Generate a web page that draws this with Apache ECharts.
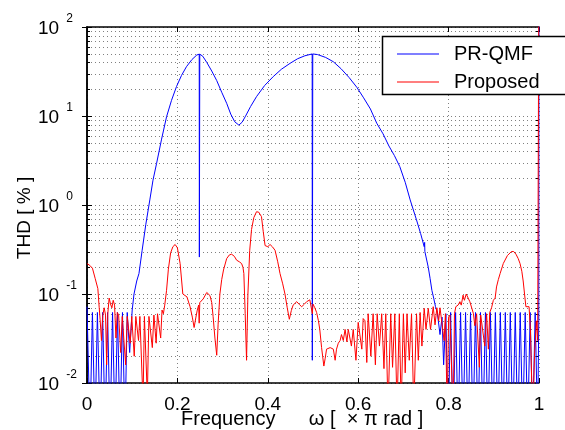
<!DOCTYPE html>
<html>
<head>
<meta charset="utf-8">
<script src="https://cdn.jsdelivr.net/npm/echarts@6/dist/echarts.min.js"></script>
<style>
  body { margin: 0; background: #fff; }
  #chart { width: 565px; height: 430px; }
</style>
</head>
<body>
<div id="chart"></div>
<script>
// tick labels
var xTickLabels = ['0', '0.2', '0.4', '0.6', '0.8', '1'];
var yTickExps = ['-2', '-1', '0', '1', '2'];
// minor log grid positions (2..9 of each decade)
var minorGridVals = [0.02, 0.03, 0.04, 0.05, 0.06, 0.07, 0.08, 0.09,
  0.2, 0.3, 0.4, 0.5, 0.6, 0.7, 0.8, 0.9,
  2, 3, 4, 5, 6, 7, 8, 9,
  20, 30, 40, 50, 60, 70, 80, 90];

// PR-QMF  [omega, THD %]
var prqmf = [
  [0, 0.072], [0.0066, 0.003], [0.012, 0.062], [0.0177, 0.003], [0.023, 0.062], [0.029, 0.003],
  [0.0345, 0.062], [0.04, 0.003], [0.0455, 0.062], [0.051, 0.003], [0.0565, 0.062], [0.062, 0.003],
  [0.0675, 0.062], [0.073, 0.003], [0.0785, 0.062], [0.084, 0.003], [0.089, 0.062], [0.0944, 0.022],
  [0.1, 0.066], [0.104, 0.1], [0.11, 0.14], [0.115, 0.17], [0.122, 0.31], [0.13, 0.6], [0.139, 1.14],
  [0.146, 1.9], [0.154, 2.94], [0.165, 5.5], [0.176, 9.8], [0.187, 15], [0.198, 21.4], [0.209, 28.5],
  [0.22, 35.8], [0.232, 43], [0.243, 48.5], [0.2483, 49.5], [0.2486, 0.26], [0.2492, 0.26], [0.2495, 49.5],
  [0.256, 47], [0.265, 40], [0.276, 32], [0.287, 25], [0.298, 18.5], [0.309, 13.9], [0.318, 10.5],
  [0.327, 8.6], [0.336, 7.9], [0.343, 8.5], [0.35, 9.8], [0.362, 12.8], [0.375, 16.5], [0.393, 22],
  [0.412, 27.7], [0.43, 33.5], [0.449, 39], [0.466, 44], [0.482, 47.5], [0.4982, 49.8], [0.4985, 0.018],
  [0.4992, 0.018], [0.4995, 49.8], [0.51, 49], [0.528, 45.5], [0.545, 40.7], [0.562, 34], [0.58, 27],
  [0.597, 21], [0.612, 16], [0.627, 12], [0.641, 8.3], [0.655, 6.3], [0.668, 4.6], [0.68, 3.6],
  [0.692, 2.7], [0.704, 1.8], [0.715, 1.14], [0.722, 0.88], [0.729, 0.68], [0.738, 0.48], [0.746, 0.34],
  [0.747, 0.38], [0.7475, 0.3], [0.755, 0.2], [0.759, 0.15], [0.763, 0.11], [0.767, 0.09], [0.771, 0.072],
  [0.775, 0.062], [0.781, 0.035], [0.7855, 0.055], [0.789, 0.016], [0.794, 0.06], [0.799, 0.003],
  [0.8045, 0.062], [0.81, 0.003], [0.8155, 0.062], [0.821, 0.003], [0.8265, 0.062], [0.832, 0.003],
  [0.8375, 0.062], [0.843, 0.003], [0.8485, 0.062], [0.854, 0.003], [0.8595, 0.062], [0.865, 0.003],
  [0.8705, 0.062], [0.876, 0.003], [0.8815, 0.062], [0.887, 0.003], [0.8925, 0.062], [0.898, 0.003],
  [0.9035, 0.062], [0.909, 0.003], [0.9145, 0.062], [0.92, 0.003], [0.9255, 0.062], [0.931, 0.003],
  [0.9365, 0.062], [0.942, 0.003], [0.9475, 0.062], [0.953, 0.003], [0.9585, 0.062], [0.964, 0.003],
  [0.9695, 0.062], [0.975, 0.003], [0.9805, 0.062], [0.986, 0.003], [0.9915, 0.062], [0.997, 0.003],
  [0.9995, 0.05], [1.0, 1000]
];

// Proposed  [omega, THD %]
var proposed = [
  [0, 0.22], [0.006, 0.21], [0.012, 0.195], [0.018, 0.15], [0.024, 0.115], [0.027, 0.07], [0.029, 0.052],
  [0.032, 0.03], [0.035, 0.058], [0.038, 0.07], [0.041, 0.058], [0.0435, 0.016], [0.046, 0.06],
  [0.049, 0.09], [0.052, 0.077], [0.055, 0.07], [0.058, 0.085], [0.061, 0.075], [0.064, 0.032],
  [0.067, 0.062], [0.07, 0.058], [0.0745, 0.022], [0.078, 0.056], [0.081, 0.058], [0.0855, 0.016],
  [0.089, 0.056], [0.092, 0.058], [0.0955, 0.028], [0.099, 0.056], [0.102, 0.058], [0.1045, 0.02],
  [0.108, 0.056], [0.111, 0.058], [0.114, 0.03], [0.117, 0.056], [0.12, 0.058], [0.124, 0.006],
  [0.127, 0.056], [0.13, 0.058], [0.1335, 0.007], [0.137, 0.056], [0.14, 0.058], [0.1445, 0.025],
  [0.148, 0.058], [0.15, 0.058], [0.153, 0.028], [0.156, 0.06], [0.159, 0.062], [0.163, 0.032],
  [0.166, 0.066], [0.169, 0.06], [0.172, 0.075], [0.176, 0.11], [0.18, 0.19], [0.185, 0.29],
  [0.19, 0.34], [0.195, 0.36], [0.2, 0.33], [0.206, 0.22], [0.212, 0.1], [0.221, 0.093], [0.228, 0.072],
  [0.233, 0.055], [0.237, 0.042], [0.241, 0.055], [0.244, 0.066], [0.247, 0.075], [0.2482, 0.047],
  [0.2495, 0.08], [0.257, 0.088], [0.265, 0.104], [0.272, 0.096], [0.276, 0.08], [0.279, 0.056],
  [0.283, 0.032], [0.287, 0.0205], [0.29, 0.045], [0.294, 0.1], [0.298, 0.145], [0.302, 0.186],
  [0.309, 0.25], [0.315, 0.275], [0.32, 0.28], [0.326, 0.265], [0.331, 0.24], [0.337, 0.23],
  [0.342, 0.22], [0.345, 0.2], [0.347, 0.17], [0.35, 0.06], [0.353, 0.018], [0.356, 0.1], [0.36, 0.31],
  [0.364, 0.53], [0.369, 0.72], [0.375, 0.84], [0.38, 0.83], [0.386, 0.74], [0.39, 0.5], [0.394, 0.35],
  [0.4, 0.34], [0.405, 0.36], [0.41, 0.34], [0.416, 0.31], [0.422, 0.23], [0.427, 0.17], [0.433, 0.13],
  [0.438, 0.1], [0.443, 0.07], [0.4476, 0.052], [0.452, 0.065], [0.456, 0.075], [0.464, 0.082],
  [0.47, 0.076], [0.475, 0.072], [0.481, 0.077], [0.486, 0.082], [0.493, 0.086], [0.497, 0.083],
  [0.4985, 0.06], [0.5, 0.077], [0.504, 0.07], [0.508, 0.062], [0.512, 0.05], [0.515, 0.04],
  [0.519, 0.025], [0.524, 0.0155], [0.527, 0.019], [0.53, 0.024], [0.534, 0.025], [0.538, 0.025],
  [0.545, 0.024], [0.549, 0.018], [0.552, 0.024], [0.556, 0.028], [0.56, 0.03], [0.563, 0.035],
  [0.567, 0.03], [0.571, 0.04], [0.575, 0.029], [0.578, 0.04], [0.582, 0.041], [0.585, 0.026],
  [0.589, 0.04], [0.592, 0.042], [0.595, 0.018], [0.6, 0.048], [0.604, 0.046], [0.608, 0.024],
  [0.611, 0.053], [0.615, 0.05], [0.619, 0.017], [0.622, 0.06], [0.628, 0.02], [0.633, 0.06],
  [0.638, 0.016], [0.642, 0.06], [0.647, 0.026], [0.652, 0.06], [0.657, 0.0145], [0.661, 0.06],
  [0.666, 0.005], [0.672, 0.06], [0.676, 0.015], [0.681, 0.06], [0.686, 0.005], [0.691, 0.06],
  [0.695, 0.005], [0.7, 0.06], [0.704, 0.013], [0.708, 0.06], [0.713, 0.018], [0.718, 0.06],
  [0.723, 0.005], [0.729, 0.06], [0.733, 0.018], [0.737, 0.062], [0.741, 0.026], [0.746, 0.069],
  [0.75, 0.04], [0.755, 0.069], [0.76, 0.04], [0.766, 0.072], [0.77, 0.045], [0.774, 0.07],
  [0.778, 0.05], [0.781, 0.07], [0.785, 0.072], [0.79, 0.03], [0.793, 0.06], [0.797, 0.004],
  [0.8, 0.055], [0.803, 0.058], [0.806, 0.058], [0.81, 0.004], [0.813, 0.06], [0.816, 0.072],
  [0.821, 0.075], [0.825, 0.082], [0.828, 0.075], [0.832, 0.097], [0.835, 0.085], [0.839, 0.1],
  [0.843, 0.098], [0.847, 0.082], [0.851, 0.085], [0.855, 0.06], [0.858, 0.044], [0.862, 0.06],
  [0.865, 0.058], [0.868, 0.015], [0.871, 0.058], [0.875, 0.06], [0.88, 0.026], [0.884, 0.06],
  [0.888, 0.024], [0.891, 0.062], [0.895, 0.07], [0.899, 0.085], [0.903, 0.09], [0.906, 0.12],
  [0.91, 0.145], [0.914, 0.17], [0.921, 0.22], [0.93, 0.27], [0.939, 0.3], [0.944, 0.3], [0.949, 0.28],
  [0.954, 0.25], [0.958, 0.22], [0.962, 0.18], [0.965, 0.14], [0.968, 0.1], [0.971, 0.072],
  [0.975, 0.07], [0.978, 0.072], [0.981, 0.04], [0.986, 0.004], [0.99, 0.02], [0.994, 0.05],
  [0.997, 0.03], [1.0, 1000]
];

var FONT = 'Liberation Sans, Arial, sans-serif';
var dotted = { color: '#808080', width: 1, type: [1, 3] };

var chart = echarts.init(document.getElementById('chart'), null, { renderer: 'canvas' });

var option = {
  animation: false,
  backgroundColor: '#fff',
  grid: { left: 87, right: 26, top: 27, bottom: 47 },
  legend: {
    data: ['PR-QMF', 'Proposed'],
    orient: 'vertical',
    left: 382,
    top: 36,
    z: 20,
    padding: [8, 10, 6, 15],
    itemWidth: 42,
    itemHeight: 1,
    itemGap: 8,
    icon: 'rect',
    textStyle: { fontFamily: FONT, fontSize: 20, color: '#000', lineHeight: 18, padding: [0, 0, 0, 10] }
  },
  xAxis: [{
    type: 'value', min: 0, max: 1, interval: 0.2,
    axisLine: { lineStyle: { color: '#000', width: 1.5 } },
    axisTick: { inside: true, length: 5, lineStyle: { color: '#000' } },
    splitLine: { show: true, lineStyle: dotted },
    axisLabel: {
      color: '#000', fontFamily: FONT, fontSize: 19, margin: 12,
      formatter: function (v, i) { return xTickLabels[i]; }
    }
  }, {
    type: 'value', min: 0, max: 1, interval: 0.2, position: 'top',
    axisLine: { lineStyle: { color: '#000', width: 1.5 } },
    axisTick: { inside: true, length: 5, lineStyle: { color: '#000' } },
    splitLine: { show: false },
    axisLabel: { show: false }
  }],
  yAxis: [{
    type: 'log', logBase: 10, min: 0.01, max: 100,
    axisLine: { show: true, lineStyle: { color: '#000', width: 1.5 } },
    axisTick: { show: true, inside: true, length: 5, lineStyle: { color: '#000' } },
    splitLine: { show: true, lineStyle: dotted },
    axisLabel: {
      align: 'left', margin: 49,
      formatter: function (v, i) { return '{b|10}{e|' + yTickExps[i] + '}'; },
      rich: {
        b: { fontFamily: FONT, fontSize: 19, color: '#000', lineHeight: 28, padding: [4, 0, 0, 0] },
        e: { fontFamily: FONT, fontSize: 12, color: '#000', lineHeight: 12, verticalAlign: 'top', padding: [0, 0, 0, 7] }
      }
    }
  }, {
    type: 'log', logBase: 10, min: 0.01, max: 100, position: 'right',
    axisLine: { show: true, lineStyle: { color: '#000', width: 1.5 } },
    axisTick: { show: true, inside: true, length: 5, lineStyle: { color: '#000' } },
    splitLine: { show: false },
    axisLabel: { show: false }
  }],
  graphic: [{
    // legend frame, runs past the right edge of the picture
    type: 'rect', z: 10, silent: true,
    shape: { x: 382.5, y: 36.5, width: 200, height: 58 },
    style: { fill: '#fff', stroke: '#000', lineWidth: 1.5 }
  }, {
    type: 'text', left: 181, top: 409, silent: true,
    style: { text: 'Frequency      ω [  × π rad ]', font: '20px ' + FONT, fill: '#000' }
  }, {
    type: 'text', x: 25, y: 218, rotation: Math.PI / 2, silent: true,
    style: { text: 'THD [ % ]', font: '19px ' + FONT, fill: '#000', align: 'center', verticalAlign: 'middle' }
  }],
  series: [{
    name: 'minor',
    type: 'custom',
    silent: true,
    z: 1,
    xAxisIndex: 0, yAxisIndex: 0,
    data: minorGridVals.map(function (v) { return [0, v]; }),
    encode: { x: 0, y: 1 },
    renderItem: function (params, api) {
      var cs = params.coordSys;
      var y = Math.round(api.coord([0, api.value(1)])[1]) + 0.5;
      return {
        type: 'group',
        children: [
          { type: 'line', shape: { x1: cs.x, y1: y, x2: cs.x + cs.width, y2: y }, style: { stroke: '#808080', lineWidth: 1, lineDash: [1, 3] } },
          { type: 'line', shape: { x1: cs.x, y1: y, x2: cs.x + 3, y2: y }, style: { stroke: '#000', lineWidth: 1 } },
          { type: 'line', shape: { x1: cs.x + cs.width - 3, y1: y, x2: cs.x + cs.width, y2: y }, style: { stroke: '#000', lineWidth: 1 } }
        ]
      };
    }
  }, {
    name: 'PR-QMF', type: 'line', data: prqmf, showSymbol: false, symbol: 'none',
    color: '#0000ff', lineStyle: { color: '#0000ff', width: 1 }, clip: true, z: 3
  }, {
    name: 'Proposed', type: 'line', data: proposed, showSymbol: false, symbol: 'none',
    color: '#ff0000', lineStyle: { color: '#ff0000', width: 1 }, clip: true, z: 4
  }]
};

chart.setOption(option);
</script>
</body>
</html>
